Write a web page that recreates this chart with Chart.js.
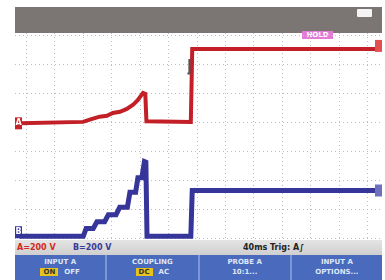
<!DOCTYPE html>
<html>
<head>
<meta charset="utf-8">
<script src="https://cdn.jsdelivr.net/npm/chart.js@4/dist/chart.umd.min.js"></script>
<style>
  body { margin: 0; width: 385px; height: 280px; background: #fff; position: relative; overflow: hidden; font-family: "DejaVu Sans", sans-serif; }
  #top { position: absolute; left: 15px; top: 7px; width: 367px; height: 26px; background: #7b7673; }
  #icon { position: absolute; left: 342px; top: 2px; width: 15px; height: 8px; background: #f4f4f4; border-radius: 1px; }
  #hold { position: absolute; left: 287px; top: 24px; width: 31px; height: 8px; background: #e27ad6; color: #fff; font-size: 7px; font-weight: bold; line-height: 8px; text-align: center; }
  #plot { position: absolute; left: 15px; top: 33px; width: 367px; height: 207px; }
  #status { position: absolute; left: 15px; top: 240px; width: 367px; height: 15px; background: linear-gradient(#e4e4e4, #cfcfcf); font-size: 8px; font-weight: bold; line-height: 15px; }
  #status span { position: absolute; top: 0; }
  #buttons { position: absolute; left: 15px; top: 255px; width: 367px; height: 25px; background: #4a6bbd; display: flex; }
  .btn { flex: 1; border-right: 2px solid #7d97d6; color: #dfe6f7; font-size: 7px; font-weight: bold; text-align: center; line-height: 10px; padding-top: 2px; }
  .btn:last-child { border-right: none; }
  .key { background: #e6c21a; color: #333; padding: 0 3px; margin-right: 6px; }
</style>
</head>
<body>
<div id="top"><div id="icon"></div><div id="hold">HOLD</div></div>
<div id="plot"><canvas id="scope" width="367" height="207"></canvas></div>
<div id="status">
  <span style="left:2px;color:#d42a22">A=200 V</span>
  <span style="left:58px;color:#3a3a9a">B=200 V</span>
  <span style="left:228px;color:#222">40ms Trig: A∫</span>
</div>
<div id="buttons">
  <div class="btn">INPUT A<br><span class="key">ON</span>OFF</div>
  <div class="btn">COUPLING<br><span class="key">DC</span>AC</div>
  <div class="btn">PROBE A<br>10:1...</div>
  <div class="btn">INPUT A<br>OPTIONS...</div>
</div>
<script>
// screen divisions (time and volts, both in divisions)
const xDivs = [0, 1, 2, 3, 4, 5, 6, 7, 8, 9, 10, 11, 12];
const yDivs = [0, 1, 2, 3, 4, 5, 6, 7];

// channel A (red)
const timeA = [-0.23, 1.99, 2.34, 2.58, 2.83, 3.04, 3.29, 3.53, 3.75, 3.92, 4.1, 4.18, 4.22, 5.78, 5.83, 12.3];
const voltA = [3.98, 4.03, 4.14, 4.21, 4.24, 4.34, 4.38, 4.48, 4.62, 4.79, 5.03, 5.0, 4.05, 4.03, 6.55, 6.55];

// channel B (blue, staircase)
const timeB = [-0.23, 2.0, 2.1, 2.35, 2.48, 2.75, 2.88, 3.15, 3.28, 3.55, 3.64, 3.84, 3.92, 4.06, 4.15, 4.2, 4.24, 5.78, 5.83, 12.3];
const voltB = [0.08, 0.08, 0.35, 0.35, 0.58, 0.58, 0.82, 0.82, 1.08, 1.08, 1.6, 1.6, 2.1, 2.1, 2.66, 2.64, 0.08, 0.08, 1.66, 1.66];

const trigTime = 5.8;

function pts(t, v) {
    return t.map((x, i) => ({ x: x, y: v[i] }));
}

// little channel markers and trigger mark
const markers = {
    id: 'markers',
    afterDatasetsDraw(chart) {
        const c = chart.ctx;
        const xs = chart.scales.x, ys = chart.scales.y;
        const draw = (x, y, col, txt) => {
            c.fillStyle = col;
            c.fillRect(x, y - 6, 7, 12);
            c.fillStyle = '#fff';
            c.font = 'bold 8px "DejaVu Sans"';
            c.textAlign = 'center';
            c.textBaseline = 'middle';
            c.fillText(txt, x + 3.5, y);
        };
        draw(0, ys.getPixelForValue(voltA[0]), '#c8232a', 'A');
        draw(0, ys.getPixelForValue(voltB[0]) - 4, '#35359a', 'B');
        draw(360, ys.getPixelForValue(voltA[voltA.length - 1]) - 3, '#e05050', '');
        draw(360, ys.getPixelForValue(voltB[voltB.length - 1]), '#7070c0', '');
        const tx = xs.getPixelForValue(trigTime);
        c.strokeStyle = '#555';
        c.lineWidth = 2;
        c.beginPath();
        c.moveTo(tx - 4, ys.getPixelForValue(5.7));
        c.lineTo(tx - 2, ys.getPixelForValue(5.7));
        c.lineTo(tx - 2, ys.getPixelForValue(6.2));
        c.stroke();
    }
};

const gridStyle = { color: '#bdbdbd', lineWidth: 1, drawTicks: false };

new Chart(document.getElementById('scope'), {
    type: 'line',
    data: {
        datasets: [
            { data: pts(timeA, voltA), borderColor: '#c21f27', borderWidth: 4, pointRadius: 0, tension: 0 },
            { data: pts(timeB, voltB), borderColor: '#35359a', borderWidth: 5, pointRadius: 0, tension: 0 }
        ]
    },
    options: {
        responsive: false,
        animation: false,
        layout: { padding: 0 },
        plugins: { legend: { display: false }, tooltip: { enabled: false } },
        scales: {
            x: {
                type: 'linear', min: -0.4, max: 12.5,
                afterBuildTicks: s => { s.ticks = xDivs.map(v => ({ value: v })); },
                ticks: { display: false },
                grid: gridStyle,
                border: { display: false, dash: [1, 3] }
            },
            y: {
                type: 'linear', min: -0.05, max: 7.1,
                afterBuildTicks: s => { s.ticks = yDivs.map(v => ({ value: v })); },
                ticks: { display: false },
                grid: gridStyle,
                border: { display: false, dash: [1, 3] }
            }
        }
    },
    plugins: [markers]
});
</script>
</body>
</html>
